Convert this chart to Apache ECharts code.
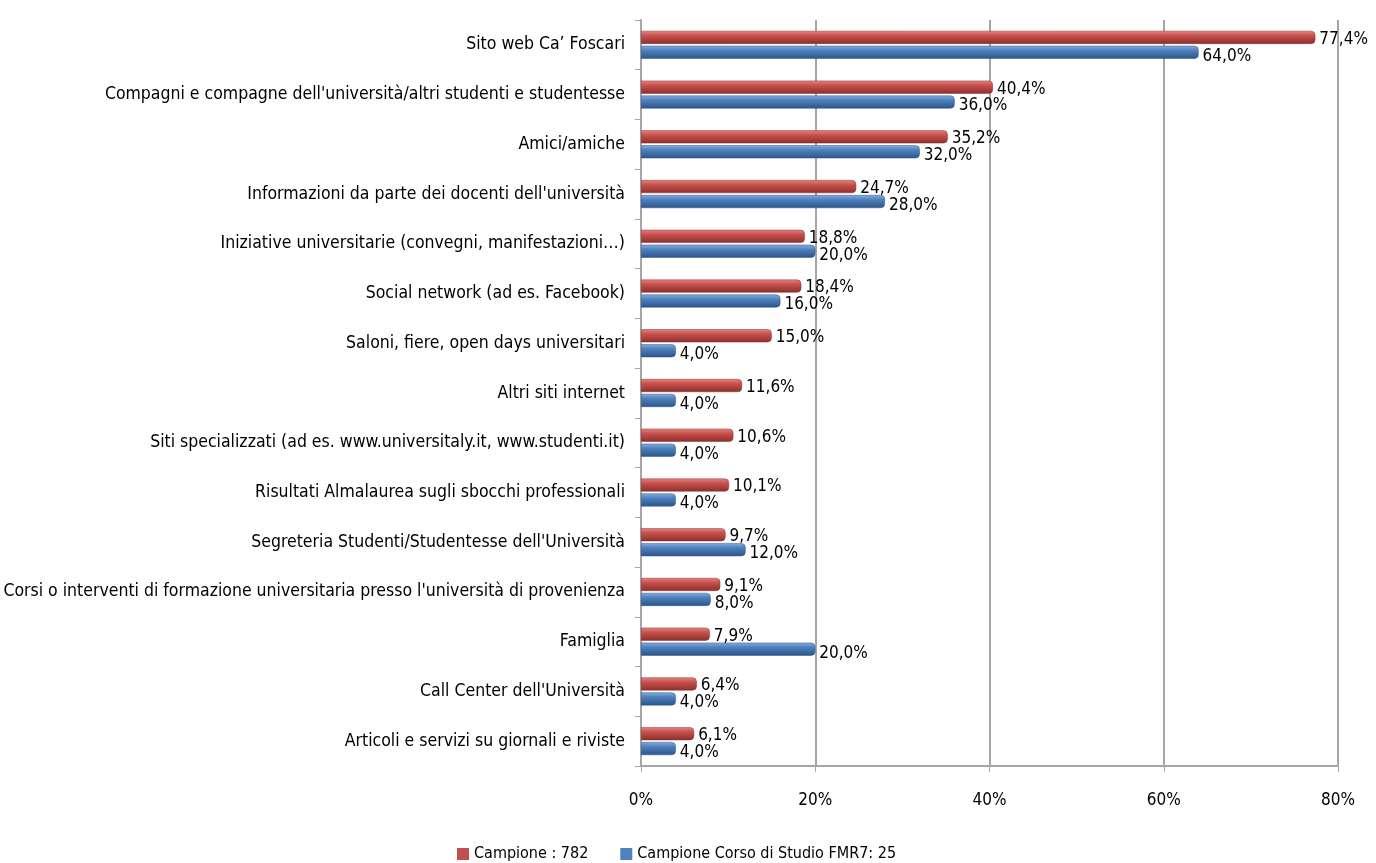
<!DOCTYPE html>
<html>
<head>
<meta charset="utf-8">
<script src="https://cdn.jsdelivr.net/npm/echarts@6/dist/echarts.min.js"></script>
<style>
  html, body { margin: 0; padding: 0; background: #fff; }
  #main { width: 1376px; height: 863px; }
</style>
</head>
<body>
<div id="main"></div>
<script>
var categories = [
    'Sito web Ca\u2019 Foscari',
    "Compagni e compagne dell'università/altri studenti e studentesse",
    'Amici/amiche',
    "Informazioni da parte dei docenti dell'università",
    'Iniziative universitarie (convegni, manifestazioni…)',
    'Social network (ad es. Facebook)',
    'Saloni, fiere, open days universitari',
    'Altri siti internet',
    'Siti specializzati (ad es. www.universitaly.it, www.studenti.it)',
    'Risultati Almalaurea sugli sbocchi professionali',
    "Segreteria Studenti/Studentesse dell'Università",
    "Corsi o interventi di formazione universitaria presso l'università di provenienza",
    'Famiglia',
    "Call Center dell'Università",
    'Articoli e servizi su giornali e riviste'
];
var campione = [77.4, 40.4, 35.2, 24.7, 18.8, 18.4, 15.0, 11.6, 10.6, 10.1, 9.7, 9.1, 7.9, 6.4, 6.1];
var corsoFMR7 = [64.0, 36.0, 32.0, 28.0, 20.0, 16.0, 4.0, 4.0, 4.0, 4.0, 12.0, 8.0, 20.0, 4.0, 4.0];
var xTicks = [0, 20, 40, 60, 80];

var font = '"Liberation Sans Narrow", "DejaVu Sans Condensed", Lato, sans-serif';

function fmt(v) {
    return v.toFixed(1).replace('.', ',') + '%';
}

function grad(top, mid, bottom) {
    return new echarts.graphic.LinearGradient(0, 0, 0, 1, [
        { offset: 0, color: top },
        { offset: 0.35, color: mid },
        { offset: 1, color: bottom }
    ]);
}

var myChart = echarts.init(document.getElementById('main'));
myChart.setOption({
    animation: false,
    textStyle: { fontFamily: font },
    grid: { left: 641, right: 38, top: 20, bottom: 97, outerBoundsMode: 'none' },
    legend: {
        top: 841,
        left: 452,
        itemWidth: 12,
        itemHeight: 12,
        itemGap: 32,
        itemStyle: { borderWidth: 0 },
        icon: 'rect',
        textStyle: { fontSize: 16, color: '#000', fontFamily: font },
        data: [
            { name: 'Campione : 782', itemStyle: { color: '#c0504d' } },
            { name: 'Campione Corso di Studio FMR7: 25', itemStyle: { color: '#4f81bd' } }
        ]
    },
    xAxis: {
        type: 'value',
        min: 0,
        max: 80,
        interval: 20,
        axisLine: { show: true, lineStyle: { color: '#a6a6a6', width: 2 } },
        axisTick: { show: true, length: 6, lineStyle: { color: '#a6a6a6' } },
        splitLine: { show: true, lineStyle: { color: '#a6a6a6', width: 2 } },
        axisLabel: {
            margin: 26,
            fontSize: 17,
            color: '#000',
            formatter: function (v) { return xTicks.indexOf(v) >= 0 ? v + '%' : ''; }
        }
    },
    yAxis: {
        type: 'category',
        inverse: true,
        data: categories,
        axisLine: { show: true, lineStyle: { color: '#a6a6a6', width: 2 } },
        axisTick: { show: true, length: 6, lineStyle: { color: '#a6a6a6' } },
        axisLabel: { margin: 16, fontSize: 17.5, color: '#000' }
    },
    series: [
        {
            name: 'Campione : 782',
            type: 'bar',
            data: campione,
            barWidth: 13,
            barGap: '15%',
            itemStyle: {
                color: grad('#e58582', '#c8524e', '#8c2f2c'),
                borderColor: '#8c2f2c',
                borderWidth: 0.5,
                borderRadius: [0, 4, 4, 0]
            },
            label: {
                show: true,
                position: 'right',
                distance: 4,
                offset: [0, 2],
                fontSize: 17,
                color: '#000',
                formatter: function (p) { return fmt(p.value); }
            }
        },
        {
            name: 'Campione Corso di Studio FMR7: 25',
            type: 'bar',
            data: corsoFMR7,
            barWidth: 13,
            itemStyle: {
                color: grad('#86aee0', '#4f81bd', '#2c5589'),
                borderColor: '#2c5589',
                borderWidth: 0.5,
                borderRadius: [0, 4, 4, 0]
            },
            label: {
                show: true,
                position: 'right',
                distance: 4,
                offset: [0, 4],
                fontSize: 17,
                color: '#000',
                formatter: function (p) { return fmt(p.value); }
            }
        }
    ]
});
</script>
</body>
</html>
